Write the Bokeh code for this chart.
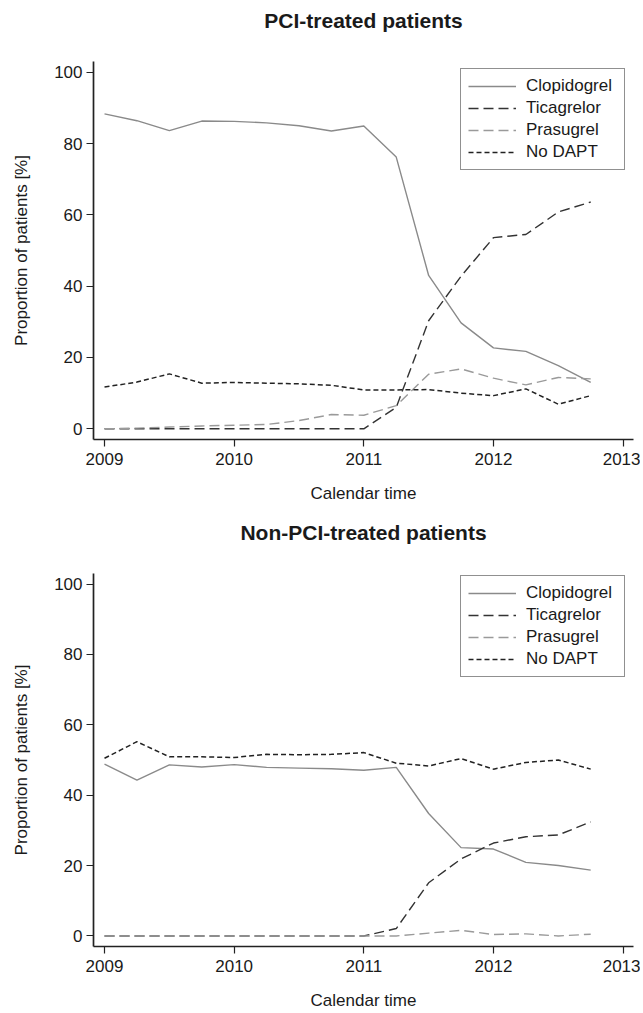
from bokeh.plotting import figure
from bokeh.layouts import column
from bokeh.models import Range1d, FixedTicker, Legend, LegendItem, Title
from bokeh.embed import file_html
from bokeh.resources import INLINE

# ---- data ----
quarters = [2009.0, 2009.25, 2009.5, 2009.75, 2010.0, 2010.25, 2010.5, 2010.75,
            2011.0, 2011.25, 2011.5, 2011.75, 2012.0, 2012.25, 2012.5, 2012.75]

pci_clopidogrel = [88.3, 86.4, 83.6, 86.3, 86.2, 85.8, 85.0, 83.5,
                   84.9, 76.2, 43.0, 29.7, 22.7, 21.7, 17.7, 13.0]
pci_ticagrelor = [0, 0, 0, 0, 0, 0, 0, 0,
                  0, 6.0, 30.3, 42.8, 53.6, 54.5, 60.8, 63.6]
pci_prasugrel = [0, 0.2, 0.5, 0.8, 1.0, 1.2, 2.3, 4.0,
                 3.8, 6.5, 15.3, 16.8, 14.2, 12.3, 14.4, 14.0]
pci_nodapt = [11.7, 13.1, 15.4, 12.8, 13.0, 12.8, 12.6, 12.2,
              10.9, 10.9, 11.0, 10.0, 9.3, 11.2, 6.9, 9.3]

non_clopidogrel = [48.8, 44.3, 48.6, 48.0, 48.7, 47.9, 47.7, 47.5,
                   47.1, 47.9, 34.8, 25.1, 24.7, 20.9, 20.0, 18.7]
non_ticagrelor = [0, 0, 0, 0, 0, 0, 0, 0,
                  0, 2.1, 15.1, 21.9, 26.4, 28.2, 28.7, 32.4]
non_prasugrel = [0, 0, 0, 0, 0, 0, 0, 0,
                 0, 0, 0.8, 1.6, 0.4, 0.6, 0.0, 0.5]
non_nodapt = [50.5, 55.2, 50.9, 50.9, 50.7, 51.6, 51.5, 51.6,
              52.1, 49.1, 48.3, 50.4, 47.4, 49.3, 50.0, 47.4]

series_names = ["Clopidogrel", "Ticagrelor", "Prasugrel", "No DAPT"]
x_ticks = [2009, 2010, 2011, 2012, 2013]
y_ticks = [0, 20, 40, 60, 80, 100]

FONT = "Liberation Sans"
TXT = "#1a1a1a"

styles = [
    dict(line_color="#8a8a8a", line_width=1.4, line_dash="solid"),
    dict(line_color="#333333", line_width=1.4, line_dash="10 5"),
    dict(line_color="#9a9a9a", line_width=1.4, line_dash="10 5"),
    dict(line_color="#222222", line_width=1.5, line_dash="5 3"),
]


def make_fig(title, data, height, top, bottom):
    p = figure(width=640, height=height, output_backend="svg", toolbar_location=None,
               x_range=Range1d(2008.915, 2013.08), y_range=Range1d(-3, 103),
               min_border_left=93, min_border_right=7,
               min_border_top=top, min_border_bottom=bottom)
    p.title = None
    # spacer between the frame and the title
    p.add_layout(Title(text=" ", text_font_size="21px", standoff=0), "above")
    p.add_layout(Title(text=title, text_font=FONT, text_font_size="21px",
                       text_font_style="bold", text_color=TXT, align="center"), "above")
    p.outline_line_color = None
    p.grid.visible = False
    p.background_fill_color = "white"
    p.border_fill_color = "white"

    for ax in (p.xaxis[0], p.yaxis[0]):
        ax.axis_line_color = "#222222"
        ax.axis_line_width = 1.7
        ax.major_tick_line_color = "#222222"
        ax.major_tick_line_width = 1.2
        ax.major_tick_out = 7
        ax.major_tick_in = 0
        ax.minor_tick_line_color = None
        ax.major_label_text_font = FONT
        ax.major_label_text_font_size = "17px"
        ax.major_label_text_color = TXT
        ax.axis_label_text_font = FONT
        ax.axis_label_text_font_size = "17px"
        ax.axis_label_text_font_style = "normal"
        ax.axis_label_text_color = TXT

    p.xaxis.ticker = FixedTicker(ticks=x_ticks)
    p.yaxis.ticker = FixedTicker(ticks=y_ticks)
    p.xaxis.axis_label = "Calendar time"
    p.yaxis.axis_label = "Proportion of patients [%]"
    p.xaxis.major_label_standoff = 6
    p.yaxis.major_label_standoff = 4
    p.xaxis.axis_label_standoff = 16
    p.yaxis.axis_label_standoff = 20

    items = []
    for name, ys, st in zip(series_names, data, styles):
        r = p.line(quarters, ys, **st)
        items.append(LegendItem(label=name, renderers=[r]))

    leg = Legend(items=items, location=(367, 269))
    leg.margin = 0
    leg.padding = 7
    leg.spacing = 2
    leg.glyph_width = 48
    leg.glyph_height = 20
    leg.label_height = 20
    leg.label_width = 91
    leg.label_standoff = 10
    leg.label_text_font = FONT
    leg.label_text_font_size = "17px"
    leg.label_text_color = TXT
    leg.border_line_color = "#222222"
    leg.border_line_width = 1
    leg.background_fill_alpha = 1
    p.add_layout(leg)
    return p


p1 = make_fig("PCI-treated patients",
              [pci_clopidogrel, pci_ticagrelor, pci_prasugrel, pci_nodapt],
              512, 61, 73)
p2 = make_fig("Non-PCI-treated patients",
              [non_clopidogrel, non_ticagrelor, non_prasugrel, non_nodapt],
              500, 61, 61)

layout = column(p1, p2, spacing=0)
open("out.html", "w").write(file_html(layout, INLINE))
